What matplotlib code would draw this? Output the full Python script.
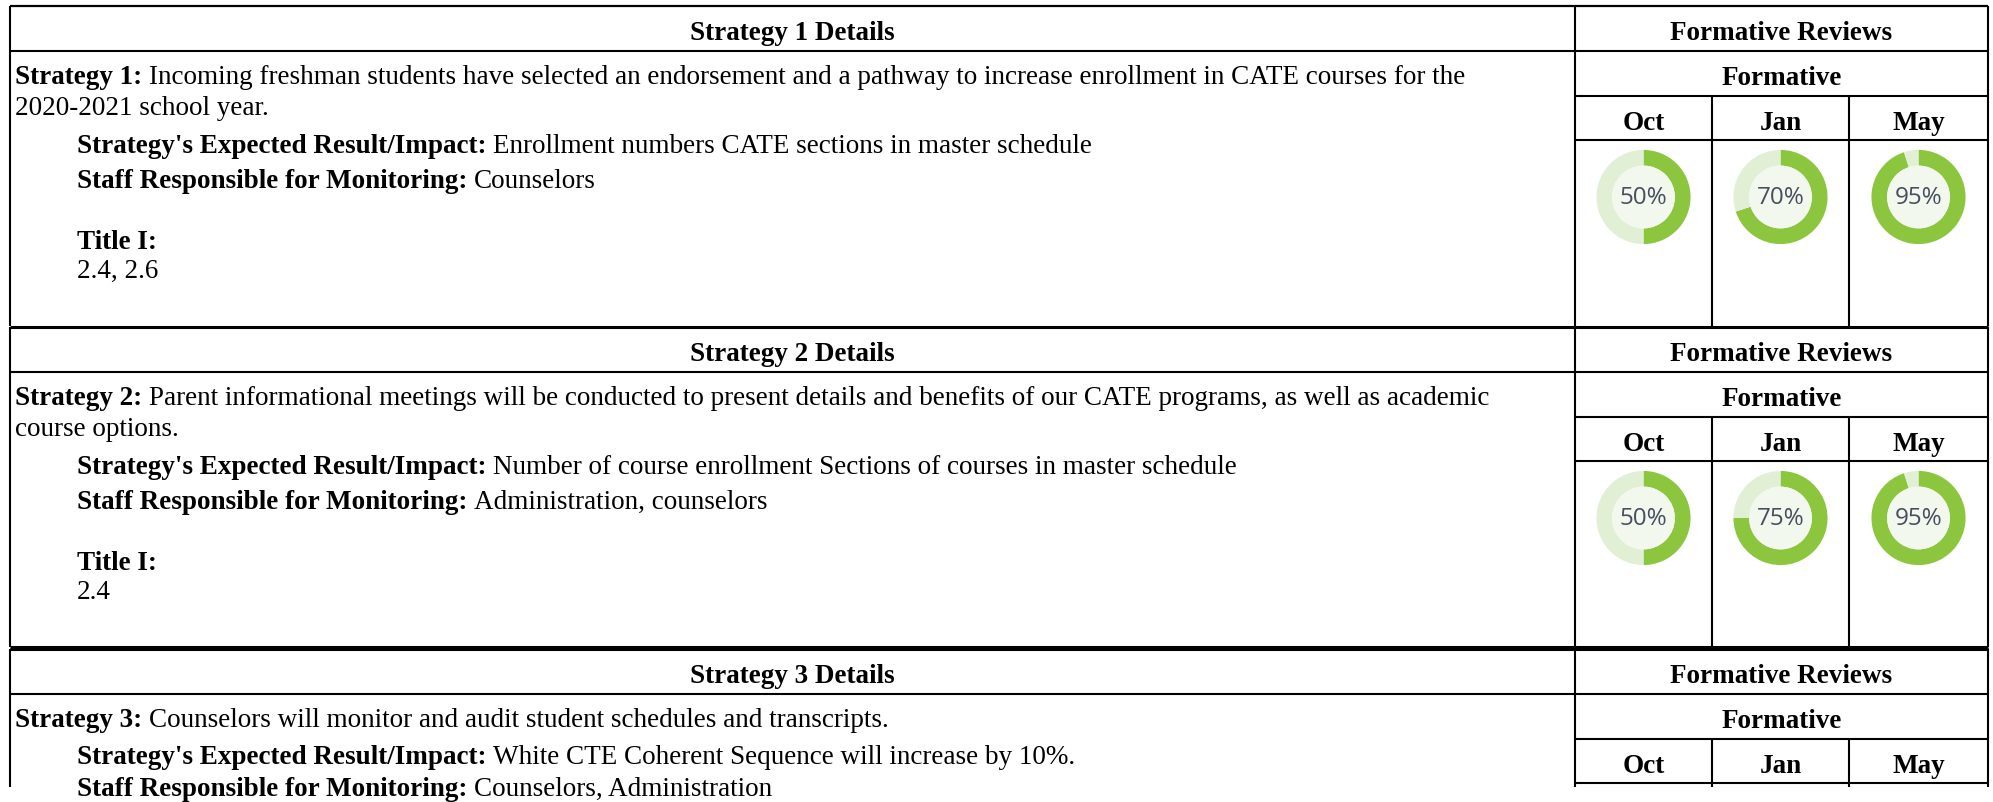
import matplotlib.pyplot as plt
from matplotlib.patches import Circle

# --- Data ---
section_titles = ["Strategy 1 Details", "Strategy 2 Details", "Strategy 3 Details"]
strategy_labels = ["Strategy 1:", "Strategy 2:", "Strategy 3:"]
strategy_lines = [
    ["Incoming freshman students have selected an endorsement and a pathway to increase enrollment in CATE courses for the",
     "2020-2021 school year."],
    ["Parent informational meetings will be conducted to present details and benefits of our CATE programs, as well as academic",
     "course options."],
    ["Counselors will monitor and audit student schedules and transcripts."],
]
expected_results = [
    "Enrollment numbers CATE sections in master schedule",
    "Number of course enrollment Sections of courses in master schedule",
    "White CTE Coherent Sequence will increase by 10%.",
]
staff_responsible = ["Counselors", "Administration, counselors", "Counselors, Administration"]
title_one = ["2.4, 2.6", "2.4", None]

months = ["Oct", "Jan", "May"]
oct_pct = [50, 50]
jan_pct = [70, 75]
may_pct = [95, 95]

# --- Layout (pixels) ---
W, H = 1993, 803
x_left, x_div, x_right = 10, 1575, 1988
month_edges = [1575, 1712, 1849, 1988]
section_tops = [7, 328, 650]
section_bottoms = [327, 648, 788]
FS = 19.5  # ~27px Times
SERIF = "Liberation Serif"
GREEN, LIGHT, INNER = "#8cc63e", "#e1efd5", "#f2f8ee"

fig = plt.figure(figsize=(W / 100, H / 100), dpi=100)
ax = fig.add_axes([0, 0, 1, 1])
ax.set_xlim(0, W)
ax.set_ylim(H, 0)
ax.axis("off")
renderer = fig.canvas.get_renderer()


def hline(y, x0, x1, lw=1.5):
    ax.plot([x0, x1], [y, y], color="black", lw=lw, solid_capstyle="butt")


def vline(x, y0, y1, lw=1.5):
    ax.plot([x, x], [y0, y1], color="black", lw=lw, solid_capstyle="butt")


def label_pair(x, y, bold, regular):
    t = ax.text(x, y, bold, fontsize=FS, family=SERIF, weight="bold", va="baseline")
    bb = t.get_window_extent(renderer)
    x1 = ax.transData.inverted().transform((bb.x1, 0))[0]
    if regular:
        ax.text(x1 + 7, y, regular, fontsize=FS, family=SERIF, va="baseline")


def plain(x, y, s, bold=False, ha="left"):
    ax.text(x, y, s, fontsize=FS, family=SERIF, weight="bold" if bold else "normal",
            va="baseline", ha=ha)


def donut(cx, cy, pct, r=48):
    dax = fig.add_axes([(cx - r) / W, (H - cy - r) / H, 2 * r / W, 2 * r / H])
    dax.pie([pct, 100 - pct], colors=[GREEN, LIGHT], startangle=90, counterclock=False,
            radius=1, wedgeprops=dict(width=16 / 48, linewidth=0))
    dax.add_patch(Circle((0, 0), 32 / 48, color=INNER, lw=0))
    dax.text(0, 0, f"{pct}%", ha="center", va="center", fontsize=17.5,
             family="Open Sans", color="#474f5e")
    dax.set_xlim(-1.02, 1.02)
    dax.set_ylim(-1.02, 1.02)
    dax.set_aspect("equal")
    dax.axis("off")


for i, top in enumerate(section_tops):
    bot = section_bottoms[i]
    lw_top = 2.2 if i > 0 else 1.6
    hline(top, x_left, x_right, lw_top)
    hline(top + 45, x_left, x_right)
    hline(top + 90, x_div, x_right)
    hline(top + 134, x_div, x_right)
    vline(x_left, top, bot)
    vline(x_div, top, bot)
    vline(x_right, top, bot)
    for xm in month_edges[1:-1]:
        vline(xm, top + 90, bot)

    # left column text
    plain((x_left + x_div) / 2, top + 33, section_titles[i], bold=True, ha="center")
    lines = strategy_lines[i]
    label_pair(15, top + 77, strategy_labels[i], lines[0])
    y = top + 77
    for extra in lines[1:]:
        y += 31
        plain(15, y, extra)
    y_exp = top + 146 if len(lines) > 1 else top + 114
    label_pair(77, y_exp, "Strategy's Expected Result/Impact:", expected_results[i])
    label_pair(77, y_exp + 35 if len(lines) > 1 else y_exp + 32,
               "Staff Responsible for Monitoring:", staff_responsible[i])
    if title_one[i] is not None:
        plain(77, top + 242, "Title I:", bold=True)
        plain(77, top + 271, title_one[i])

    # right column text
    plain((x_div + x_right) / 2, top + 33, "Formative Reviews", bold=True, ha="center")
    plain((x_div + x_right) / 2, top + 78, "Formative", bold=True, ha="center")
    for j, m in enumerate(months):
        plain((month_edges[j] + month_edges[j + 1]) / 2, top + 123, m, bold=True, ha="center")

hline(section_bottoms[1], x_left, x_right, 2.2)

# donuts
for i in range(len(oct_pct)):
    cy = section_tops[i] + 191
    for j, pcts in enumerate([oct_pct, jan_pct, may_pct]):
        cx = (month_edges[j] + month_edges[j + 1]) / 2
        donut(cx, cy, pcts[i])

fig.savefig("out.png", dpi=100, facecolor="white")
